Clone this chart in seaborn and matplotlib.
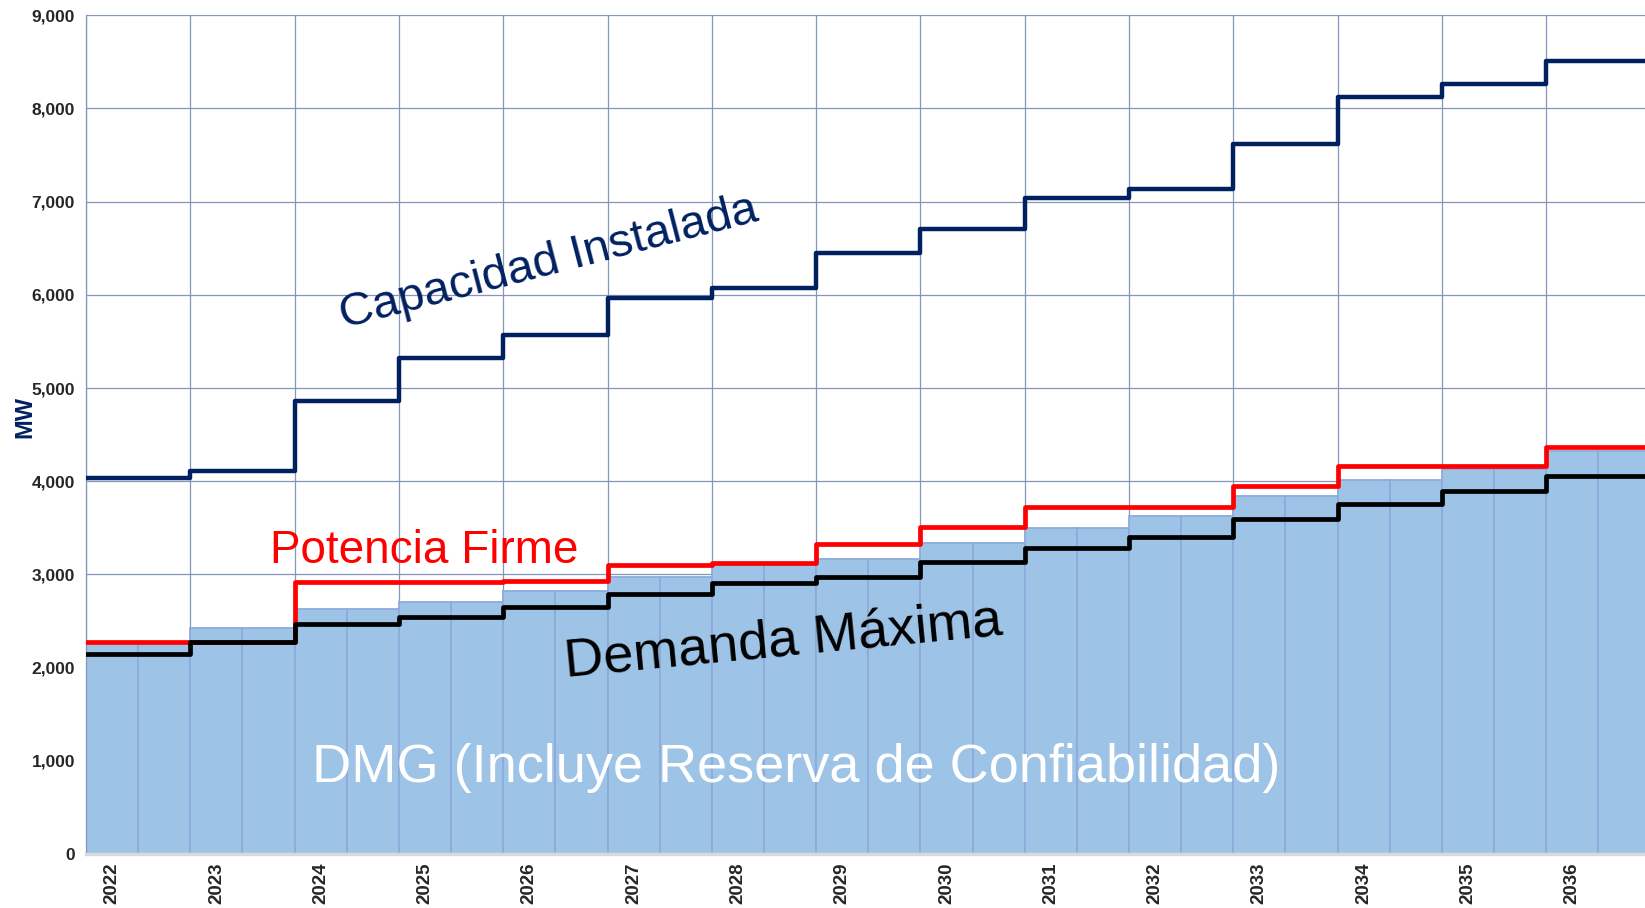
import numpy as np
import pandas as pd
import seaborn as sns
import matplotlib.pyplot as plt
from matplotlib.ticker import FuncFormatter, FixedLocator

# values (MW)
years = list(range(2022, 2037))
capacidad = [4030, 4115, 4860, 5325, 5565, 5965, 6070, 6450, 6710, 7035, 7140, 7615, 8120, 8265, 8505]
potencia = [2280, 2280, 2915, 2920, 2925, 3100, 3120, 3330, 3510, 3725, 3725, 3945, 4160, 4160, 4365]
demanda = [2145, 2275, 2470, 2540, 2655, 2788, 2910, 2972, 3135, 3285, 3405, 3598, 3758, 3900, 4055]
dmg = [2265, 2430, 2633, 2700, 2825, 2972, 3097, 3169, 3341, 3500, 3630, 3837, 4008, 4134, 4323]

sns.set_style("white")
plt.rcParams['font.family'] = ['Liberation Sans', 'DejaVu Sans']

GRID = '#8497b8'
NAVY = '#002060'

# two half-year bars per year
bars = pd.DataFrame({
    'periodo': np.arange(2 * len(years)),
    'dmg': np.repeat(dmg, 2),
})

fig = plt.figure(figsize=(16.45, 9.08), dpi=100)
ax = fig.add_axes([86 / 1645, 54 / 908, 1559 / 1645, 838.7 / 908])

sns.barplot(data=bars, x='periodo', y='dmg', color='#9dc3e6', saturation=1,
            width=1, edgecolor='#8eaadb', linewidth=1.3, ax=ax, zorder=1)

# step lines, each year spans two bars
edges = np.arange(len(years) + 1) * 2 - 0.5
def steps(vals):
    return pd.DataFrame({'x': edges, 'y': list(vals) + [vals[-1]]})

sns.lineplot(data=steps(capacidad), x='x', y='y', drawstyle='steps-post', color=NAVY,
             lw=3.2, estimator=None, ax=ax, zorder=4)
sns.lineplot(data=steps(potencia), x='x', y='y', drawstyle='steps-post', color='#ff0000',
             lw=3.4, estimator=None, ax=ax, zorder=4)
sns.lineplot(data=steps(demanda), x='x', y='y', drawstyle='steps-post', color='black',
             lw=3.4, estimator=None, ax=ax, zorder=5)

ax.set_xlim(-0.5, -0.5 + 1559 / 52.15)
ax.set_ylim(0, 9000)
ax.set_yticks(range(0, 9001, 1000))
ax.yaxis.set_major_formatter(FuncFormatter(lambda v, p: f'{int(v):,}'))
ax.set_xticks(np.arange(len(years)) * 2)
ax.set_xticklabels([str(y) for y in years], rotation=90, fontweight='bold', fontsize=13.5)
ax.xaxis.set_minor_locator(FixedLocator(edges))
ax.tick_params(axis='y', length=0, pad=8, labelsize=12.5)
for lab in ax.get_yticklabels():
    lab.set_fontweight('bold')
ax.tick_params(axis='x', which='major', length=0, pad=6)
ax.tick_params(axis='x', which='minor', length=3, color='#d9d9d9')

ax.set_axisbelow(True)
ax.grid(axis='y', color=GRID, lw=0.9)
ax.grid(axis='x', which='minor', color=GRID, lw=0.9)
ax.grid(axis='x', which='major', visible=False)

ax.set_xlabel('')
ax.set_ylabel('MW', fontweight='bold', fontsize=17, color=NAVY)
ax.yaxis.set_label_coords(-0.032, 0.521)
for s in ['top', 'right']:
    ax.spines[s].set_visible(False)
ax.spines['left'].set_color(GRID)
ax.spines['left'].set_linewidth(0.9)
ax.spines['bottom'].set_color('#d9d9d9')
ax.spines['bottom'].set_linewidth(2.5)

ax.text(8.38, 6345, 'Capacidad Instalada', color=NAVY, fontsize=34, rotation=14.5,
        ha='center', va='center', rotation_mode='anchor', zorder=6)
ax.text(5.98, 3255, 'Potencia Firme', color='#ff0000', fontsize=33,
        ha='center', va='center', zorder=6)
ax.text(12.88, 2272, 'Demanda Máxima', color='black', fontsize=39, rotation=5.5,
        ha='center', va='center', rotation_mode='anchor', zorder=6)
ax.text(13.11, 775, 'DMG (Incluye Reserva de Confiabilidad)', color='white', fontsize=39,
        ha='center', va='baseline', zorder=6)

fig.savefig('out.png', dpi=100)
